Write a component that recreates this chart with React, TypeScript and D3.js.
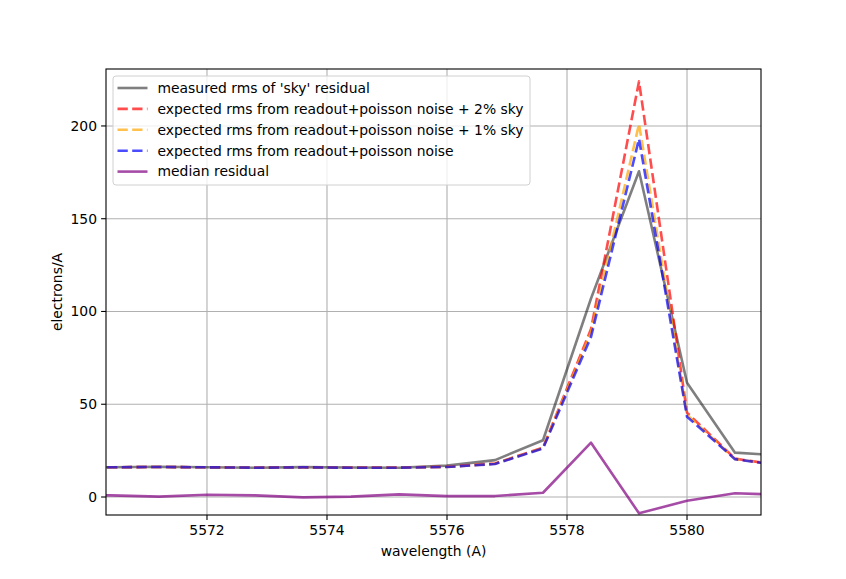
import * as d3 from 'd3';

const WIDTH = 846;
const HEIGHT = 579;
const MARGIN = { top: 69, right: 85, bottom: 64, left: 106 };

// wavelength grid (A)
const wavelength = [5569.6, 5570.4, 5571.2, 5572.0, 5572.8, 5573.6, 5574.4, 5575.2, 5576.0, 5576.8, 5577.6, 5578.4, 5579.2, 5580.0, 5580.8, 5581.6];

const measuredRms = [16.0, 16.0, 16.3, 16.0, 15.8, 16.1, 15.9, 15.8, 16.9, 19.9, 30.6, 107, 175.6, 61.6, 23.9, 22.3];
const expected2pct = [16.0, 16.0, 16.2, 16.0, 15.9, 16.0, 15.9, 15.9, 16.3, 18.1, 26.6, 90.5, 224, 45.5, 20.7, 16.8];
const expected1pct = [16.0, 16.0, 16.2, 16.0, 15.8, 16.0, 15.8, 15.8, 16.2, 17.9, 26.4, 88.7, 201, 44.3, 20.5, 16.8];
const expectedNoSky = [16.0, 16.0, 16.2, 16.0, 15.8, 16.0, 15.8, 15.8, 16.2, 17.8, 26.2, 86.3, 193, 43.3, 20.4, 16.8];
const medianResidual = [0.9, 0.9, 0.2, 1.2, 0.9, -0.2, 0.2, 1.4, 0.5, 0.5, 2.3, 29.3, -8.8, -2.0, 2.0, 1.2];

const xTicks = [5572, 5574, 5576, 5578, 5580];
const yTicks = [0, 50, 100, 150, 200];

const SERIES = [
    { label: "measured rms of 'sky' residual", values: measuredRms, color: '#000', alpha: 0.5, dashed: false },
    { label: 'expected rms from readout+poisson noise + 2% sky', values: expected2pct, color: 'red', alpha: 0.7, dashed: true },
    { label: 'expected rms from readout+poisson noise + 1% sky', values: expected1pct, color: 'orange', alpha: 0.7, dashed: true },
    { label: 'expected rms from readout+poisson noise', values: expectedNoSky, color: 'blue', alpha: 0.7, dashed: true },
    { label: 'median residual', values: medianResidual, color: 'purple', alpha: 0.7, dashed: false },
];

const FONT = 'DejaVu Sans, sans-serif';
const FS = 13.9;
const DASH = '10.3,4.4';

export default function App() {
    const boundsWidth = WIDTH - MARGIN.left - MARGIN.right;
    const boundsHeight = HEIGHT - MARGIN.top - MARGIN.bottom;

    const xScale = d3.scaleLinear().domain([5570.317, 5581.233]).range([0, boundsWidth]);
    const yScale = d3.scaleLinear().domain([-9.7, 230.7]).range([boundsHeight, 0]);

    const lineFor = (vals: number[]) =>
        d3.line<number>()
            .x((_, i) => xScale(wavelength[i]))
            .y((d) => yScale(d))(vals) ?? '';

    return (
        <svg width={WIDTH} height={HEIGHT} style={{ position: 'absolute', left: 0, top: 0, background: '#fff' }} fontFamily={FONT}>
            <defs>
                <clipPath id="plot-clip">
                    <rect x={0} y={0} width={boundsWidth} height={boundsHeight} />
                </clipPath>
            </defs>
            <g transform={`translate(${MARGIN.left},${MARGIN.top})`}>
                {/* grid */}
                {xTicks.map((t) => (
                    <line key={'gx' + t} x1={xScale(t)} x2={xScale(t)} y1={0} y2={boundsHeight} stroke="#b0b0b0" strokeWidth={1.1} />
                ))}
                {yTicks.map((t) => (
                    <line key={'gy' + t} x1={0} x2={boundsWidth} y1={yScale(t)} y2={yScale(t)} stroke="#b0b0b0" strokeWidth={1.1} />
                ))}

                {/* series */}
                <g clipPath="url(#plot-clip)">
                    {SERIES.map((s) => (
                        <path
                            key={s.label}
                            d={lineFor(s.values)}
                            fill="none"
                            stroke={s.color}
                            strokeOpacity={s.alpha}
                            strokeWidth={2.6}
                            strokeDasharray={s.dashed ? DASH : undefined}
                            strokeLinejoin="round"
                        />
                    ))}
                </g>

                {/* spines */}
                <rect x={0} y={0} width={boundsWidth} height={boundsHeight} fill="none" stroke="#000" strokeWidth={1.1} />

                {/* x axis ticks */}
                {xTicks.map((t) => (
                    <g key={'tx' + t} transform={`translate(${xScale(t)},${boundsHeight})`}>
                        <line y1={0} y2={4.9} stroke="#000" strokeWidth={1.1} />
                        <text y={20} textAnchor="middle" fontSize={FS} fill="#000">{t}</text>
                    </g>
                ))}
                {/* y axis ticks */}
                {yTicks.map((t) => (
                    <g key={'ty' + t} transform={`translate(0,${yScale(t)})`}>
                        <line x1={0} x2={-4.9} stroke="#000" strokeWidth={1.1} />
                        <text x={-9} dy="0.35em" textAnchor="end" fontSize={FS} fill="#000">{t}</text>
                    </g>
                ))}

                {/* axis labels */}
                <text x={boundsWidth / 2} y={boundsHeight + 41} textAnchor="middle" fontSize={FS} fill="#000">wavelength (A)</text>
                <text transform={`translate(-44,${boundsHeight / 2}) rotate(-90)`} textAnchor="middle" fontSize={FS} fill="#000">electrons/A</text>

                {/* legend */}
                <g transform="translate(7,7)">
                    <rect x={0} y={0} width={417} height={109} rx={3} fill="#fff" fillOpacity={0.8} stroke="#d0d0d0" strokeWidth={1} />
                    {SERIES.map((s, i) => (
                        <g key={'lg' + i} transform={`translate(0,${12 + i * 20.9})`}>
                            <line
                                x1={4.5}
                                x2={34.5}
                                y1={0}
                                y2={0}
                                stroke={s.color}
                                strokeOpacity={s.alpha}
                                strokeWidth={2.6}
                                strokeDasharray={s.dashed ? DASH : undefined}
                            />
                            <text x={44.5} dy="0.35em" fontSize={FS} fill="#000">{s.label}</text>
                        </g>
                    ))}
                </g>
            </g>
        </svg>
    );
}
